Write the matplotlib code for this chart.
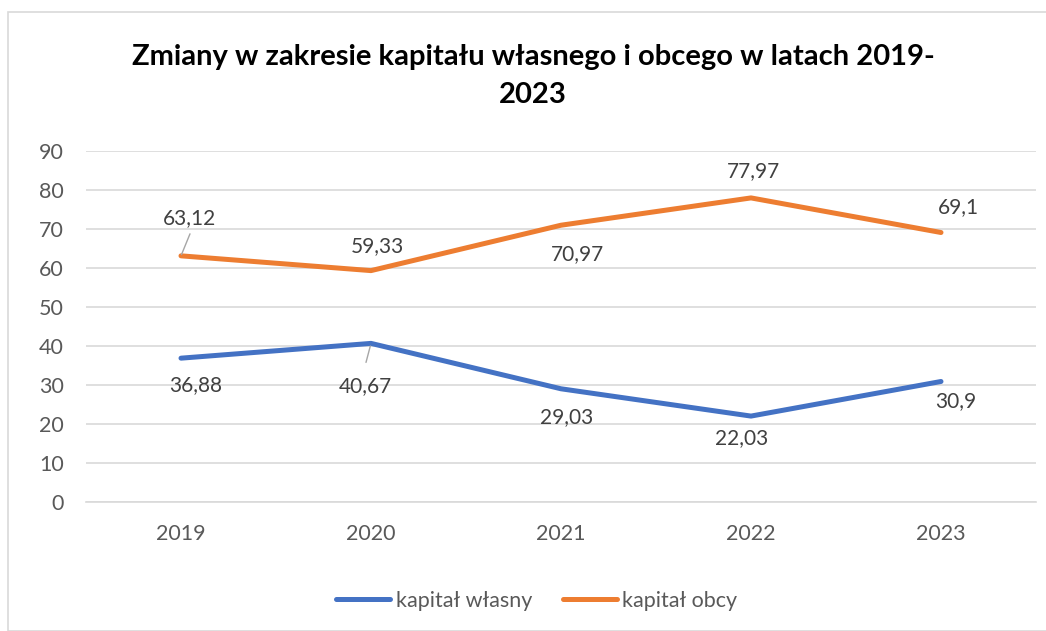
import matplotlib.pyplot as plt
from matplotlib.patches import Rectangle

# Chart data
years = ["2019", "2020", "2021", "2022", "2023"]
kapital_wlasny = [36.88, 40.67, 29.03, 22.03, 30.9]
kapital_obcy = [63.12, 59.33, 70.97, 77.97, 69.1]

# label offsets in pixels (dx, dy) for each point
off_wlasny = [(15, -27), (-6, -43), (6, -28), (-9, -22), (15, -20)]
off_obcy = [(9, 38), (6, 25), (16, -29), (3, 27), (17, 25)]

BLUE = "#4472C4"
ORANGE = "#ED7D31"
TXT = "#595959"
FONT = "Lato"

W, H = 1046, 631
fig = plt.figure(figsize=(W / 100, H / 100), dpi=100)
plt.rcParams["font.family"] = [FONT, "DejaVu Sans"]

# outer chart border
fig.patches.append(Rectangle((8 / W, 0), 1.2, 1 - 12 / H, transform=fig.transFigure,
                             fill=False, edgecolor="#D9D9D9", linewidth=1.2))

ax = fig.add_axes([86 / W, 1 - 502 / H, (1036 - 86) / W, (502 - 151) / H])
x = list(range(len(years)))

ax.plot(x, kapital_wlasny, color=BLUE, linewidth=3.6, solid_capstyle="round",
        label="kapitał własny", zorder=3)
ax.plot(x, kapital_obcy, color=ORANGE, linewidth=3.6, solid_capstyle="round",
        label="kapitał obcy", zorder=3)


def fmt(v):
    return ("%g" % v).replace(".", ",")


for i, v in enumerate(kapital_wlasny):
    dx, dy = off_wlasny[i]
    ax.annotate(fmt(v), (i, v), xytext=(dx, dy), textcoords="offset pixels",
                ha="center", va="center", fontsize=15, color="#404040")
for i, v in enumerate(kapital_obcy):
    dx, dy = off_obcy[i]
    ax.annotate(fmt(v), (i, v), xytext=(dx, dy), textcoords="offset pixels",
                ha="center", va="center", fontsize=15, color="#404040")

# leader lines for the two labels Excel pulled away from their points
ax.annotate("", (0, kapital_obcy[0]), xytext=(9, 22), textcoords="offset pixels",
            arrowprops=dict(arrowstyle="-", color="#A6A6A6", lw=1, shrinkA=0, shrinkB=1))
ax.annotate("", (1, kapital_wlasny[1]), xytext=(-5, -19), textcoords="offset pixels",
            arrowprops=dict(arrowstyle="-", color="#A6A6A6", lw=1, shrinkA=0, shrinkB=2))

ax.set_xlim(-0.5, 4.5)
ax.set_ylim(0, 90)
ax.set_yticks(range(0, 91, 10))
ax.set_xticks(x)
ax.set_xticklabels(years)
ax.tick_params(length=0, labelsize=15.5, labelcolor=TXT)
ax.tick_params(axis="y", pad=16)
ax.tick_params(axis="x", pad=16)
ax.grid(axis="y", color="#D9D9D9", linewidth=1.2)
ax.set_axisbelow(True)
for s in ["top", "right", "left"]:
    ax.spines[s].set_visible(False)
ax.spines["bottom"].set_color("#D9D9D9")
ax.spines["bottom"].set_linewidth(1.2)

fig.text(533 / W, 1 - 76 / H,
         "Zmiany w zakresie kapitału własnego i obcego w latach 2019-\n2023",
         ha="center", va="center", fontsize=21, fontweight="bold", color="black",
         linespacing=1.55)

fig.legend(loc="center", bbox_to_anchor=(537 / W, 1 - 601 / H), ncol=2, frameon=False,
           fontsize=15.5, labelcolor=TXT, handlelength=2.5, handletextpad=0.25,
           columnspacing=1.45)

fig.savefig("out.png", dpi=100)
